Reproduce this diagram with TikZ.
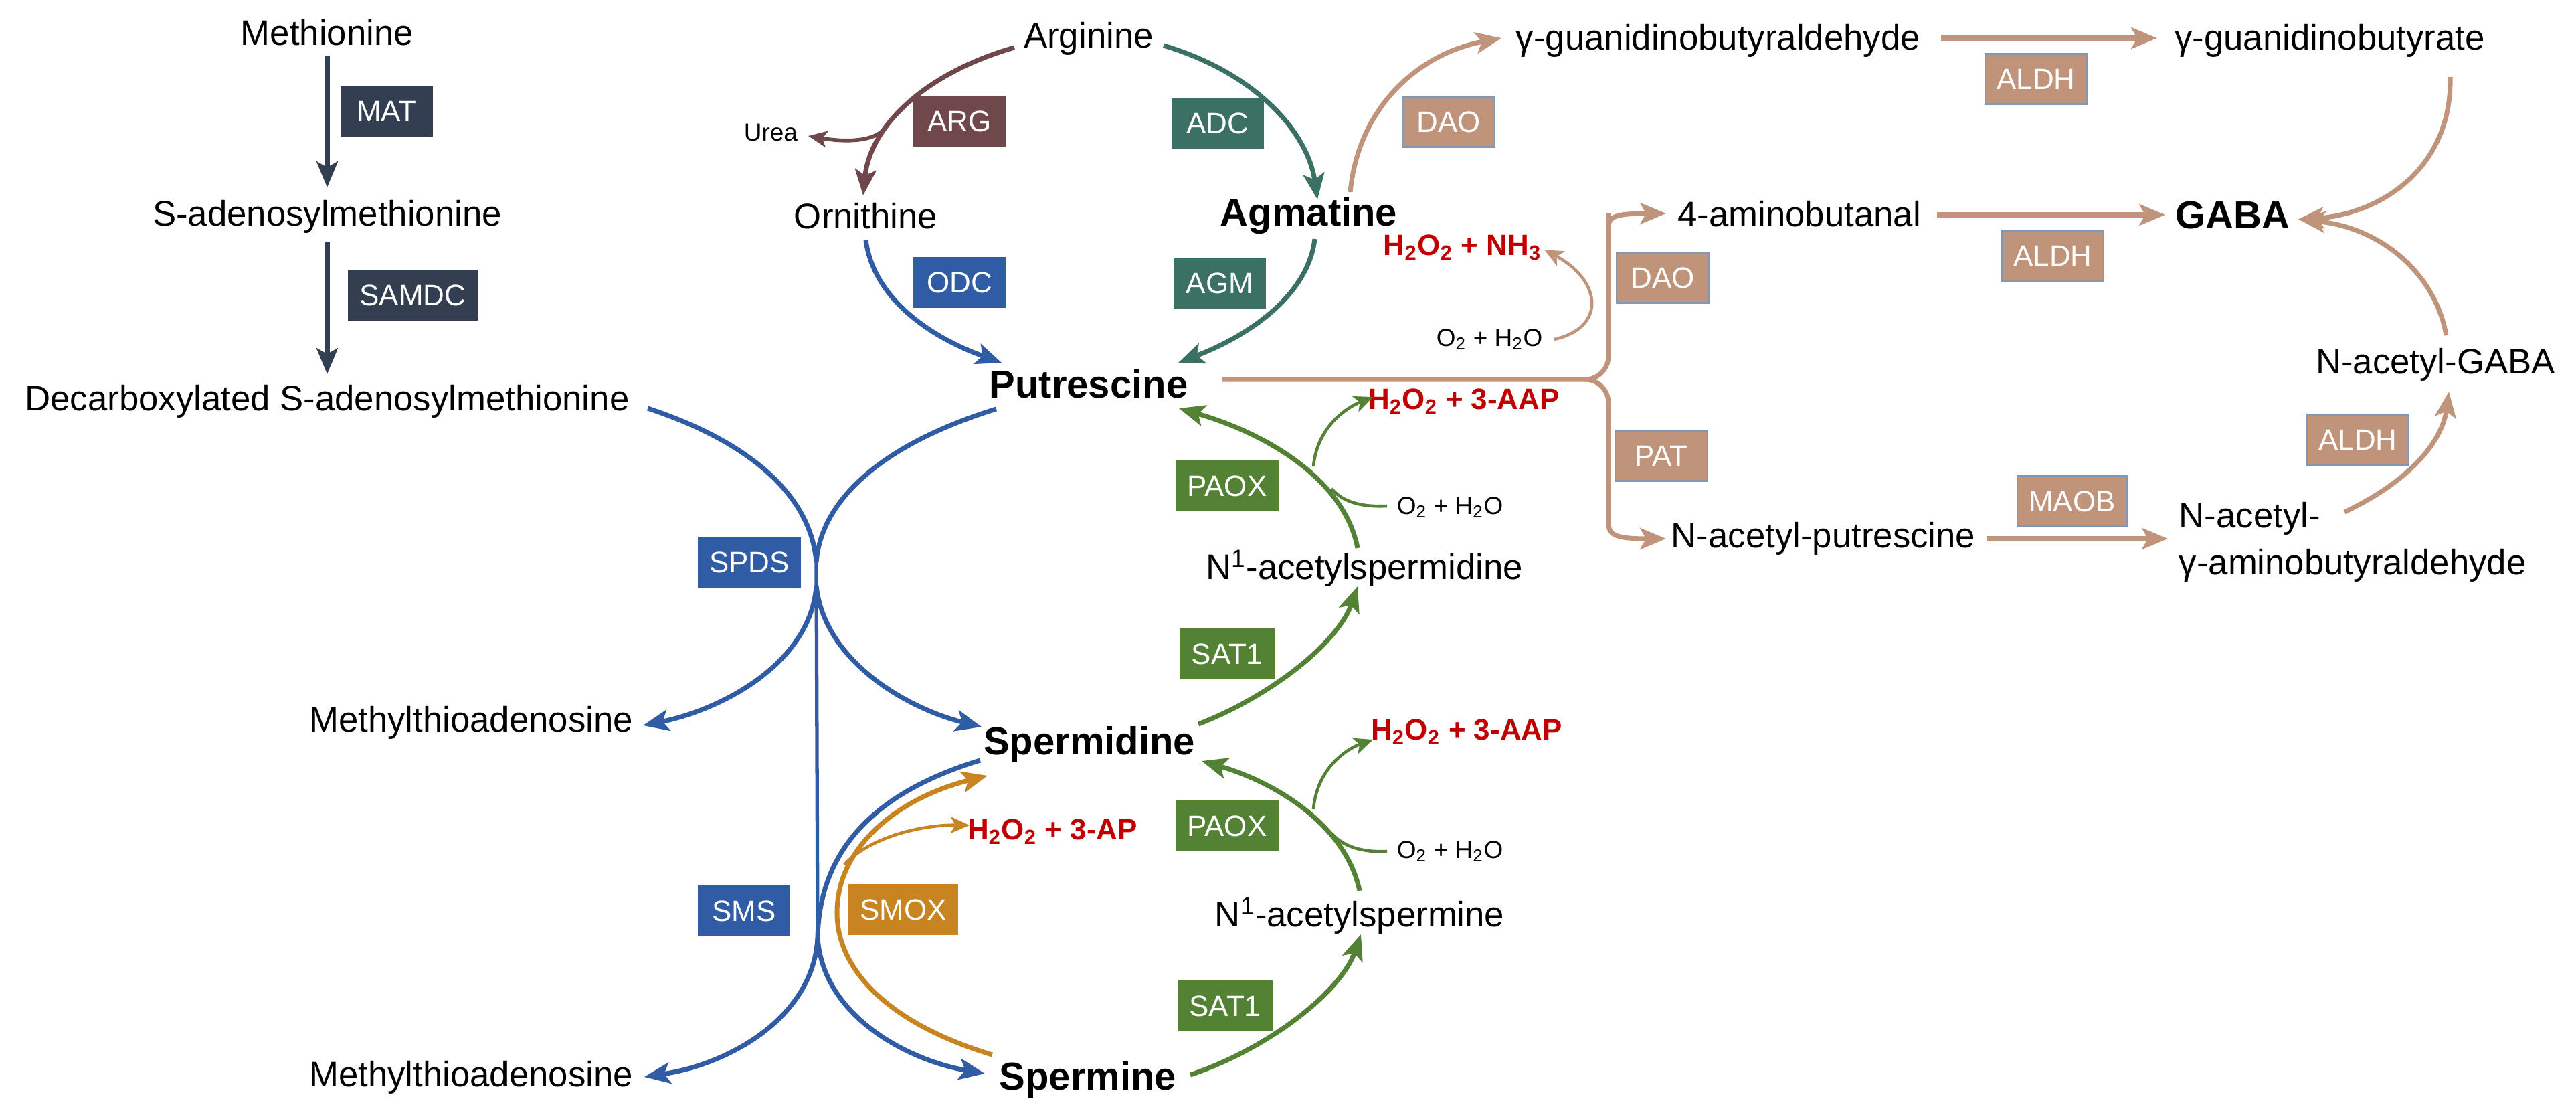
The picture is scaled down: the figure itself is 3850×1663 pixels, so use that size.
\documentclass[tikz,border=0pt]{standalone}
\usepackage{fontspec}
\setmainfont{Liberation Sans}
\usetikzlibrary{arrows.meta}
\definecolor{navy}{HTML}{333F50}
\definecolor{argc}{HTML}{70474A}
\definecolor{teal}{HTML}{3B7064}
\definecolor{blu}{HTML}{305CA6}
\definecolor{grn}{HTML}{548235}
\definecolor{tanc}{HTML}{C0947A}
\definecolor{org}{HTML}{C88420}
\definecolor{myred}{HTML}{C00000}
\definecolor{tanb}{HTML}{8497B0}
\tikzset{
 base/.style={font=\fontsize{15}{18}\selectfont, inner sep=0pt},
 bld/.style={font=\fontsize{16.5}{20}\selectfont\bfseries, inner sep=0pt},
 small/.style={font=\fontsize{10.5}{12}\selectfont, inner sep=0pt},
 rd/.style={font=\fontsize{12.5}{15}\selectfont\bfseries, text=myred, inner sep=0pt},
 enz/.style={font=\fontsize{12.5}{15}\selectfont, text=white, minimum height=0.75cm, minimum width=1.38cm, inner xsep=5pt},
 tbox/.style={enz, fill=tanc, draw=tanb, line width=0.6pt},
 ar/.style={line width=2pt, -{Stealth[length=11pt,width=9pt,inset=2.5pt]}},
 ln/.style={line width=2pt},
 sa/.style={line width=1.3pt, -{Stealth[length=8pt,width=7pt,inset=2pt]}},
}
\begin{document}
\begin{tikzpicture}[x=0.01cm,y=-0.01cm]
\useasboundingbox (0,0) rectangle (3850,1663);
% left column
\node[base] (met) at (489,49) {Methionine};
\node[base] (sam) at (489,324) {S-adenosylmethionine};
\node[base] (dsam) at (489,600) {Decarboxylated S-adenosylmethionine};
\node[enz, fill=navy] (mat) at (578,166) {MAT};
\node[enz, fill=navy] (samdc) at (617,441) {SAMDC};
\draw[ar, navy] (489,83) -- (489,280);
\draw[ar, navy] (489,361) -- (489,559);
% arginine cycle
\node[base] (arg) at (1627,58) {Arginine};
\node[base] (orn) at (1294,323) {Ornithine};
\node[bld] (agm) at (1956,323) {Agmatine};
\node[bld] (put) at (1627,574) {Putrescine};
\node[small] (urea) at (1152,198) {Urea};
\node[enz, fill=argc] (argb) at (1434,181) {ARG};
\node[enz, fill=teal] (adc) at (1820,184) {ADC};
\node[enz, fill=blu] (odc) at (1434,422) {ODC};
\node[enz, fill=teal] (agmb) at (1823,423) {AGM};
\draw[ar, argc] (1516,71) .. controls (1380,110) and (1300,190) .. (1290,292);
\draw[sa, argc, line width=1.6pt] (1318,196) .. controls (1300,212) and (1260,212) .. (1208,203);
\draw[ar, teal] (1739,68) .. controls (1880,110) and (1955,200) .. (1969,298);
\draw[ar, blu] (1294,359) .. controls (1305,440) and (1380,500) .. (1497,542);
\draw[ar, teal] (1965,357) .. controls (1955,440) and (1870,500) .. (1761,542);
% DAO branch top
\node[base] (ggb) at (2568,61) {γ-guanidinobutyraldehyde};
\node[base] (ggr) at (3482,61) {γ-guanidinobutyrate};
\node[tbox] (dao1) at (2165,182) {DAO};
\node[tbox] (aldh1) at (3043,118) {ALDH};
\draw[ar, tanc] (2018,287) .. controls (2030,160) and (2120,80) .. (2244,57);
\draw[ar, tanc] (2901,57) -- (3224,57);
% GABA region
\node[base] (amb) at (2689,320) {4-aminobutanal};
\node[bld] (gaba) at (3337,322) {GABA};
\node[tbox] (aldh2) at (3068,382) {ALDH};
\node[tbox] (dao2) at (2485,415) {DAO};
\node[tbox] (pat) at (2483,681) {PAT};
\node[tbox] (maob) at (3097,749) {MAOB};
\node[tbox] (aldh3) at (3524,657) {ALDH};
\node[base] (nap) at (2725,805) {N-acetyl-putrescine};
\node[base, anchor=west] (nag1) at (3256,775) {N-acetyl-};
\node[base, anchor=west] (nag2) at (3256,845) {γ-aminobutyraldehyde};
\node[base] (nagaba) at (3640,545) {N-acetyl-GABA};
\node[rd] (hnh) at (2186,370) {H\textsubscript{2}O\textsubscript{2} + NH\textsubscript{3}};
\node[small] (o1) at (2226,507) {O\textsubscript{2} + H\textsubscript{2}O};
\draw[ln, tanc, rounded corners=0.35cm] (1827,567) -- (2404,567) -- (2404,319);
\draw[ar, tanc] (2404,360) -- (2404,340) .. controls (2404,325) and (2410,319) .. (2490,319);
\draw[ln, tanc, rounded corners=0.35cm] (2370,567) -- (2404,567) -- (2404,760);
\draw[ar, tanc] (2404,760) -- (2404,780) .. controls (2404,798) and (2410,805) .. (2490,805);
\draw[sa, tanc] (2323,507) .. controls (2400,490) and (2395,420) .. (2308,373);
\draw[ar, tanc] (2895,321) -- (3236,321);
\draw[ar, tanc] (2969,805) -- (3240,805);
\draw[ar, tanc] (3504,765) .. controls (3600,720) and (3650,660) .. (3660,585);
\draw[ar, tanc] (3662,115) .. controls (3665,250) and (3560,320) .. (3434,328);
\draw[ar, tanc] (3656,501) .. controls (3640,410) and (3560,340) .. (3436,328);
% green acetylation cycle
\node[base] (n1spd) at (2039,849) {N\textsuperscript{1}-acetylspermidine};
\node[base] (n1spm) at (2032,1368) {N\textsuperscript{1}-acetylspermine};
\node[bld] (spd) at (1628,1112) {Spermidine};
\node[bld] (spm) at (1626,1613) {Spermine};
\node[enz, fill=grn] (paox1) at (1834,726) {PAOX};
\node[enz, fill=grn] (sat1) at (1834,977) {SAT1};
\node[enz, fill=grn] (paox2) at (1834,1234) {PAOX};
\node[enz, fill=grn] (sat2) at (1831,1503) {SAT1};
\node[rd] (h1) at (2188,600) {H\textsubscript{2}O\textsubscript{2} + 3-AAP};
\node[rd] (h2) at (2192,1094) {H\textsubscript{2}O\textsubscript{2} + 3-AAP};
\node[small] (o2) at (2167,758) {O\textsubscript{2} + H\textsubscript{2}O};
\node[small] (o3) at (2167,1272) {O\textsubscript{2} + H\textsubscript{2}O};
\draw[ar, grn] (2029,819) .. controls (2010,720) and (1900,650) .. (1762,610);
\draw[sa, grn] (1963,697) .. controls (1968,640) and (2010,610) .. (2052,593);
\draw[ln, grn, line width=1.3pt] (2073,756) .. controls (2030,758) and (2005,748) .. (1990,730);
\draw[ar, grn] (1791,1082) .. controls (1900,1040) and (2000,960) .. (2029,876);
\draw[ar, grn] (2032,1331) .. controls (2012,1235) and (1910,1170) .. (1796,1137);
\draw[sa, grn] (1963,1209) .. controls (1968,1150) and (2010,1120) .. (2052,1105);
\draw[ln, grn, line width=1.3pt] (2073,1272) .. controls (2030,1274) and (2005,1262) .. (1990,1245);
\draw[ar, grn] (1779,1606) .. controls (1900,1565) and (2005,1480) .. (2034,1396);
% blue spermidine / spermine synthesis
\node[base] (mta1) at (704,1080) {Methylthioadenosine};
\node[base] (mta2) at (704,1610) {Methylthioadenosine};
\node[enz, fill=blu] (spds) at (1120,840) {SPDS};
\node[enz, fill=blu] (sms) at (1112,1361) {SMS};
\node[enz, fill=org] (smox) at (1350,1359) {SMOX};
\node[rd] (h3) at (1573,1243) {H\textsubscript{2}O\textsubscript{2} + 3-AP};
\coordinate (j1) at (1220,840);
\coordinate (j2) at (1222,1401);
\draw[ln, blu] (968,610) .. controls (1120,660) and (1212,740) .. (j1);
\draw[ln, blu] (1489,611) .. controls (1330,660) and (1228,740) .. (j1);
\draw[ln, blu, line width=1.5pt] (j1) -- (j2);
\draw[ar, blu] (1220,875) .. controls (1212,990) and (1080,1060) .. (961,1084);
\draw[ar, blu] (1220,875) .. controls (1232,990) and (1360,1060) .. (1467,1086);
\draw[ln, blu] (1465,1136) .. controls (1320,1180) and (1225,1260) .. (j2);
\draw[ar, blu] (j2) .. controls (1216,1520) and (1090,1590) .. (963,1609);
\draw[ar, blu] (j2) .. controls (1230,1520) and (1360,1585) .. (1472,1604);
\draw[ar, org] (1483,1576) .. controls (1330,1530) and (1250,1450) .. (1251,1362) .. controls (1252,1260) and (1350,1190) .. (1476,1159);
\draw[sa, org] (1262,1292) .. controls (1300,1250) and (1380,1232) .. (1449,1233);
\end{tikzpicture}
\end{document}
